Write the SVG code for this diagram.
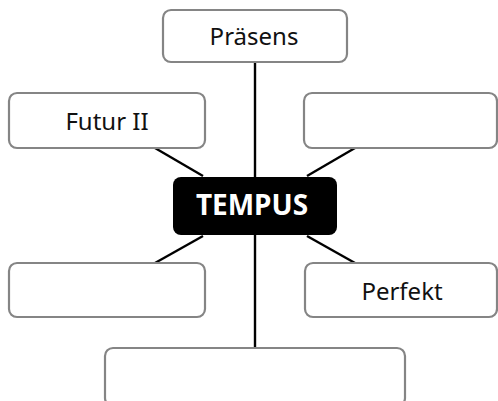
<svg xmlns="http://www.w3.org/2000/svg" width="498" height="401" viewBox="0 0 498 401">
<style>
.box{fill:#fff;stroke:#858585;stroke-width:2.2}
.lbl{font-family:"Noto Sans","Open Sans",sans-serif;font-size:24px;fill:#111;text-anchor:middle}
.conn line{stroke:#000;stroke-width:2.4}
</style>
<rect width="498" height="401" fill="#fff"/>
<g class="conn" id="connectors">
<line x1="255" y1="62" x2="255" y2="178"/>
<line x1="255" y1="234" x2="255" y2="348"/>
<line x1="155" y1="148" x2="203" y2="176"/>
<line x1="355" y1="148" x2="307" y2="176"/>
<line x1="155" y1="263" x2="203" y2="236"/>
<line x1="355" y1="263" x2="307" y2="236"/>
</g>
<g id="praesens"><rect class="box" x="163" y="10" width="184" height="52" rx="8"/><text class="lbl" x="254" y="45">Präsens</text></g>
<g id="futur2"><rect class="box" x="9" y="93" width="196" height="55" rx="8"/><text class="lbl" x="107" y="130">Futur II</text></g>
<g id="topright"><rect class="box" x="304" y="93" width="193" height="55" rx="8"/></g>
<g id="bottomleft"><rect class="box" x="9" y="263" width="196" height="54" rx="8"/></g>
<g id="perfekt"><rect class="box" x="305" y="263" width="192" height="54" rx="8"/><text class="lbl" x="402" y="300">Perfekt</text></g>
<g id="bottom"><rect class="box" x="105" y="348" width="300" height="58" rx="8"/></g>
<g id="tempus"><rect x="173" y="177" width="164" height="58" rx="8" fill="#000"/><text x="252" y="215" font-family="'Noto Sans','Open Sans',sans-serif" font-size="28" font-weight="bold" fill="#fff" text-anchor="middle">TEMPUS</text></g>
</svg>
